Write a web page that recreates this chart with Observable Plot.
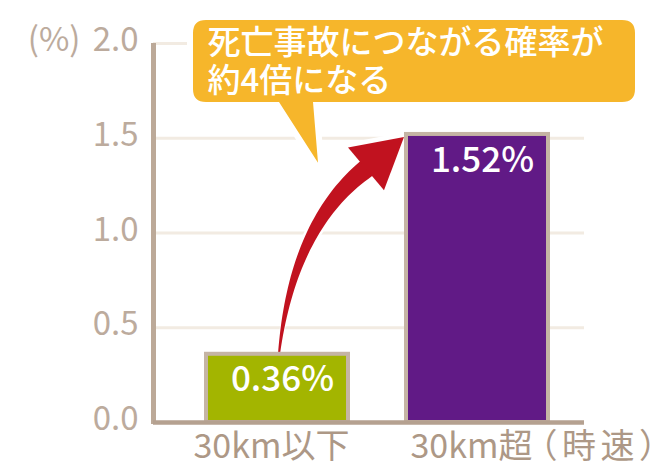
<!DOCTYPE html>
<html>
<head>
<meta charset="utf-8">
<script src="https://cdn.jsdelivr.net/npm/d3@7"></script>
<script src="https://cdn.jsdelivr.net/npm/@observablehq/plot@0.6"></script>
<style>
  body { margin: 0; background: #fff; }
  #chart svg { display: block; }
</style>
</head>
<body>
<div id="chart"></div>
<script>
// ---- data ----
const categories = ["30km以下", "30km超"];
const values = [0.36, 1.52];
const valueLabels = ["0.36%", "1.52%"];
const barColors = ["#a3b500", "#611a86"];
const yTicks = [0, 0.5, 1.0, 1.5, 2.0];
const gridTicks = [0.5, 1.0, 1.5, 2.0];
const yUnit = "(%)";
const xUnit = "（時速）";
const calloutText = "死亡事故につながる確率が\n約4倍になる";

const data = categories.map((c, i) => ({category: c, value: values[i], label: valueLabels[i], color: barColors[i]}));
const FONT = '"Noto Sans CJK JP", "Noto Sans", sans-serif';
const AXIS = "#bca998";
const TICKTXT = "#bcab9d";
const XTXT = "#ad9886";

function quad(P0, P1, P2, t) {
  const u = 1 - t;
  return [u*u*P0[0] + 2*u*t*P1[0] + t*t*P2[0], u*u*P0[1] + 2*u*t*P1[1] + t*t*P2[1]];
}
function dquad(P0, P1, P2, t) {
  const u = 1 - t;
  return [2*u*(P1[0]-P0[0]) + 2*t*(P2[0]-P1[0]), 2*u*(P1[1]-P0[1]) + 2*t*(P2[1]-P1[1])];
}

// annotation layer: callout bubble, curved arrow, y axis line
function annotations(index, scales, channels, dims) {
  const x = scales.x, y = scales.y;
  const bw = typeof x.bandwidth === "function" ? x.bandwidth() : (x.bandwidth || 0);
  const ml = dims.marginLeft;
  const g = d3.create("svg:g");

  // callout bubble
  const x0 = x(categories[0]);
  const L = x0 - 13, R = dims.width - 34, Tp = y(2) - 23, B = y(2) + 59, r = 13;
  const tl = x0 + 73, tr = x0 + 107, tipX = x0 + 112, tipY = y(1.5) + 25;
  const bubble = `M${L+r},${Tp}H${R-r}Q${R},${Tp} ${R},${Tp+r}V${B-r}Q${R},${B} ${R-r},${B}H${tr}L${tipX},${tipY}L${tl},${B}H${L+r}Q${L},${B} ${L},${B-r}V${Tp+r}Q${L},${Tp} ${L+r},${Tp}Z`;
  g.append("path").attr("d", bubble).attr("fill", "#f6b62b")
    .attr("stroke", "#fff").attr("stroke-width", 12).attr("stroke-linejoin", "round")
    .attr("paint-order", "stroke");

  // curved arrow
  const S = [x0 + bw / 2 + 2, y(values[0])];
  const T = [x(categories[1]) - 2, y(values[1]) + 3];
  const D = [T[0] - S[0], T[1] - S[1]];
  const H = [S[0] + 0.696 * D[0], S[1] + 0.853 * D[1]];
  const C = [S[0] + 0.112 * D[0], S[1] + 0.594 * D[1]];
  const shaft = (wf) => {
    const Lp = [], Rp = [];
    for (let i = 0; i <= 44; i++) {
      const t = i / 40;
      const p = quad(S, C, H, t), d = dquad(S, C, H, t);
      const len = Math.hypot(d[0], d[1]);
      const n = [-d[1] / len, d[0] / len];
      const w = wf(Math.min(t, 1)) / 2;
      Lp.push([p[0] + n[0]*w, p[1] + n[1]*w]);
      Rp.push([p[0] - n[0]*w, p[1] - n[1]*w]);
    }
    return "M" + Lp.concat(Rp.reverse()).map(p => p[0].toFixed(2) + "," + p[1].toFixed(2)).join("L") + "Z";
  };
  const hd = [T[0] - H[0], T[1] - H[1]];
  const hl = Math.hypot(hd[0], hd[1]);
  const hn = [hd[1] / hl, -hd[0] / hl];
  const hw = 28;
  const b1 = [H[0] - hn[0]*hw, H[1] - hn[1]*hw];
  const b2 = [H[0] + hn[0]*hw, H[1] + hn[1]*hw];
  const head = `M${T[0]},${T[1]}L${b1[0]},${b1[1]}L${b2[0]},${b2[1]}Z`;
  const wfun = t => 2 + 17 * t;
  g.append("path").attr("d", shaft(t => wfun(t) + 1 + 7 * t)).attr("fill", "#fff");
  g.append("path").attr("d", head).attr("fill", "#fff").attr("stroke", "#fff").attr("stroke-width", 9).attr("stroke-linejoin", "round");
  g.append("path").attr("d", shaft(wfun)).attr("fill", "#c1121f");
  g.append("path").attr("d", head).attr("fill", "#c1121f");

  // y axis line
  g.append("line").attr("x1", ml + 0.5).attr("x2", ml + 0.5)
    .attr("y1", y(2)).attr("y2", y(0) + 2)
    .attr("stroke", AXIS).attr("stroke-width", 5);
  return g.node();
}

const chart = Plot.plot({
  width: 669,
  height: 466,
  marginLeft: 153,
  marginRight: 85,
  marginTop: 43,
  marginBottom: 44,
  x: {domain: categories, axis: null, paddingInner: 0.292, paddingOuter: 0.221, align: 0.588},
  y: {domain: [0, 2], axis: null},
  color: {type: "identity"},
  style: {fontFamily: FONT, background: "#fff", overflow: "visible"},
  marks: [
    Plot.ruleY(gridTicks, {stroke: "#f2ebe2", strokeWidth: 3}),
    annotations,
    Plot.barY(data, {x: "category", y: "value", fill: "color", stroke: "#c5b4a4", strokeWidth: 4}),
    Plot.ruleY([0], {stroke: "#b5a190", strokeWidth: 4.5}),
    // y tick labels
    Plot.text(yTicks, {y: d => d, text: d => d.toFixed(1), frameAnchor: "left", dx: -15, dy: -3,
      textAnchor: "end", fontSize: 33, fill: TICKTXT}),
    Plot.text([yUnit], {y: () => 2, text: d => d, frameAnchor: "left", dx: -73, dy: -3,
      textAnchor: "end", fontSize: 33, fill: TICKTXT}),
    // x labels
    Plot.text(categories, {x: d => d, y: () => 0, text: d => d, dy: 25, dx: -6,
      fontSize: 34, fill: XTXT}),
    Plot.text([xUnit], {x: () => categories[1], y: () => 0, text: d => d, dy: 25, dx: 46,
      textAnchor: "start", fontSize: 34, fill: XTXT}),
    // value labels
    Plot.text(data, {x: "category", y: "value", text: "label", dy: 26, dx: 5,
      fontSize: 35, fontWeight: 500, fill: "#fff"}),
    // callout text
    Plot.text([calloutText], {text: d => d, frameAnchor: "top-left", dx: 54, dy: 17,
      textAnchor: "start", lineAnchor: "middle", lineHeight: 1.15, fontSize: 33, fontWeight: 500, fill: "#fff"})
  ]
});
chart.querySelectorAll("text").forEach(t => {
  if (t.textContent === xUnit) t.style.letterSpacing = "4.5px";
});
document.getElementById("chart").appendChild(chart);
</script>
</body>
</html>
